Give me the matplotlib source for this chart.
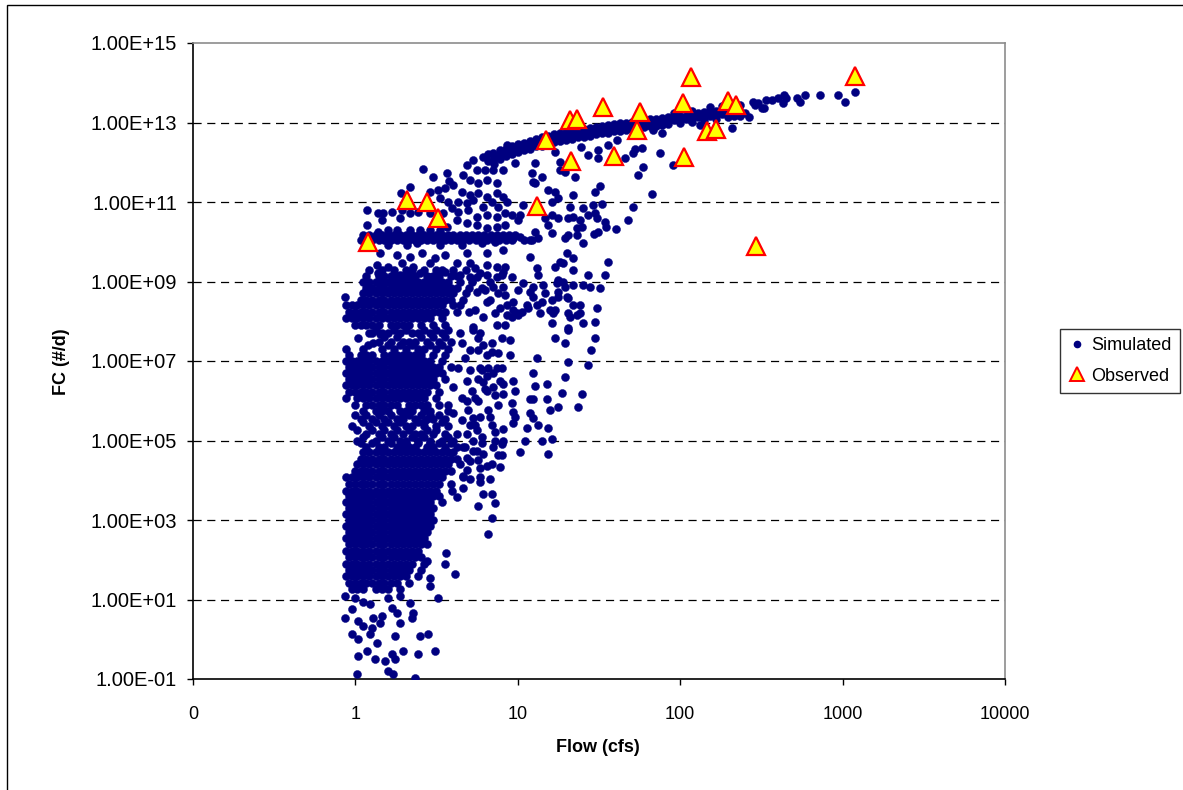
import matplotlib
matplotlib.use("Agg")
import matplotlib.pyplot as plt
from matplotlib.lines import Line2D
from matplotlib.patches import Rectangle
from matplotlib.ticker import NullLocator

plt.rcParams['font.family'] = ['Liberation Sans', 'DejaVu Sans']

# ---------------- data ----------------
obs_flow = [1.20, 2.08, 2.76, 3.23, 13.1, 14.9, 21.3, 20.9, 23.1, 33.5, 39.1,
            54.2, 56.5, 104, 105, 116, 146, 166, 197, 221, 293, 1190]
obs_fc = [1.0e10, 1.1e11, 1.0e11, 3.9e10, 7.8e10, 3.6e12, 1.1e12, 1.15e13, 1.2e13,
          2.5e13, 1.4e12, 6.5e12, 1.8e13, 3.1e13, 1.35e12, 1.4e14, 6.0e12, 6.8e12,
          3.5e13, 2.7e13, 7.8e9, 1.5e14]

# simulated: upper envelope curve (flow, FC)
sim_curve = [
    (6.55, 1.1e12), (6.55, 1.6e12), (7.14, 1.3e12), (7.14, 9e11),
    (7.77, 1.6e12), (7.77, 1.2e12), (7.77, 2e12), (8.46, 1.8e12), (8.46, 1.4e12), (8.46, 2.2e12),
    (9.21, 2e12), (9.21, 1.6e12), (9.21, 2.6e12), (10, 2.2e12), (10, 1.8e12), (10, 2.8e12),
    (10.9, 2.5e12), (10.9, 2e12), (10.9, 3e12), (11.9, 2.8e12), (11.9, 2.2e12), (11.9, 3.5e12),
    (12.9, 3e12), (12.9, 2.5e12), (12.9, 3.8e12), (14.1, 3.3e12), (14.1, 2.6e12), (14.1, 4.2e12),
    (15.3, 3.6e12), (15.3, 2.8e12), (15.3, 4.5e12), (16.7, 4e12), (16.7, 3.2e12), (16.7, 5e12),
    (18.2, 4.3e12), (18.2, 3.4e12), (18.2, 5.4e12), (19.8, 4.6e12), (19.8, 3.6e12), (19.8, 5.8e12),
    (21.6, 5e12), (21.6, 3.9e12), (21.6, 6.2e12), (23.5, 5.3e12), (23.5, 4.2e12), (23.5, 6.6e12),
    (25.6, 5.6e12), (25.6, 4.4e12), (25.6, 7e12), (27.8, 6e12), (27.8, 4.7e12), (27.8, 7.4e12),
    (30.3, 6.4e12), (30.3, 5e12), (30.3, 7.8e12), (33.0, 6.8e12), (33.0, 5.3e12), (33.0, 8.2e12),
    (35.9, 7.2e12), (35.9, 5.6e12), (35.9, 8.6e12), (39.1, 7.5e12), (39.1, 6e12), (39.1, 9e12),
    (42.6, 7.8e12), (42.6, 6.2e12), (42.6, 9.5e12), (46.3, 8.2e12), (46.3, 6.5e12), (46.3, 1e13),
    (50.5, 8.6e12), (50.5, 7e12), (50.5, 1.05e13), (55.0, 9e12), (55.0, 7.3e12), (55.0, 1.1e13),
    (59.8, 9.4e12), (59.8, 7.6e12), (59.8, 1.15e13), (65.1, 9.8e12), (65.1, 8e12), (65.1, 1.2e13),
    (70.9, 1e13), (70.9, 8.3e12), (70.9, 1.25e13), (77.3, 1.05e13), (77.3, 8.6e12), (77.3, 1.3e13),
    (84.1, 1.1e13), (84.1, 9e12), (84.1, 1.35e13), (91.6, 1.15e13), (91.6, 1.4e13), (91.6, 1.7e13),
    (99.7, 1.2e13), (99.7, 1e13), (99.7, 1.45e13), (109, 1.25e13), (109, 1.5e13),
    (118, 1.3e13), (118, 1.05e13), (118, 1.6e13), (118, 1.9e13), (129, 1.35e13), (129, 1.7e13),
    (140, 1.4e13), (140, 1.15e13), (140, 1.8e13), (152, 1.5e13), (152, 1.9e13), (152, 2.4e13),
    (166, 1.55e13), (166, 1.25e13), (166, 2e13), (180, 1.6e13), (180, 2.1e13), (180, 2.6e13),
    (196, 1.7e13), (196, 2.2e13), (196, 1.4e13), (214, 1.8e13), (214, 1.5e13), (214, 2.5e13),
    (233, 1.5e13), (233, 2.8e13),
    (250, 1.7e13), (266, 1.4e13), (281, 3.2e13), (289, 2.7e13), (301, 3.1e13), (319, 2.3e13),
    (328, 2.3e13), (338, 3.6e13), (367, 3.6e13), (400, 4.1e13), (430, 3.1e13), (435, 4.9e13),
    (448, 4.1e13), (523, 4.1e13), (547, 3.2e13), (587, 4.9e13), (726, 4.9e13), (937, 4.9e13),
    (1035, 3.2e13), (1190, 5.9e13),
]

# simulated: scattered points (flow, FC)
sim_scatter = [
    (2.61, 6.8e11), (3.0, 4.2e11), (3.66, 5.3e11), (3.77, 3.3e11), (4.86, 8.5e11), (5.3, 1.13e12),
    (6.1, 1.34e12), (7.03, 1.7e12), (8.34, 1.8e12), (8.58, 2.7e12), (5.61, 6.3e11), (6.28, 6.3e11),
    (7.03, 6.3e11), (8.11, 6.3e11), (4.59, 4.7e11), (5.08, 3.5e11), (5.69, 3e11), (6.46, 3.5e11),
    (7.44, 3e11), (2.17, 2.36e11), (1.91, 1.67e11), (2.88, 1.77e11), (3.23, 2e11), (3.56, 2.2e11),
    (3.99, 2.65e11), (4.53, 1.77e11), (5.08, 1.48e11), (5.69, 1.67e11), (6.46, 1.32e11),
    (7.44, 1.67e11), (8.11, 1.32e11), (3.32, 1.25e11), (3.72, 1e11), (4.28, 1e11), (4.86, 9.3e10),
    (5.3, 1.11e11), (6.1, 7.4e10), (6.93, 1e11), (7.55, 7.4e10), (8.58, 1e11), (2.17, 5.2e10),
    (1.94, 6.2e10), (1.68, 5.5e10), (1.48, 5.2e10), (1.38, 5.2e10), (1.18, 6.2e10), (1.18, 2.6e10),
    (1.46, 3.5e10), (1.88, 3.9e10), (2.43, 5.5e10), (2.88, 5.2e10), (3.46, 5.2e10), (3.93, 7e10),
    (4.28, 5.5e10), (4.93, 6.2e10), (5.61, 4.1e10), (6.46, 4.7e10), (7.44, 4.1e10), (8.34, 5.2e10),
    (4.22, 3.5e10), (4.86, 2.9e10), (5.61, 2.6e10), (6.46, 2.2e10), (7.44, 2.3e10), (8.34, 2.6e10),
    (3.66, 2.3e10), (3.32, 1.95e10), (2.88, 1.95e10), (2.5, 1.95e10), (2.17, 1.95e10),
    (1.8, 1.95e10), (1.59, 1.95e10), (1.38, 1.74e10),
    (1.59, 8.2e9), (2.08, 8.2e9), (2.39, 9.2e9), (3.32, 8.2e9), (4.53, 8.2e9), (6.02, 9.2e9),
    (7.24, 9.7e9), (1.42, 5.1e9), (1.8, 4.6e9), (2.17, 4.1e9), (2.57, 5.1e9), (3.56, 4.6e9),
    (4.86, 5.1e9), (6.46, 5.1e9), (8.11, 6.1e9), (1.36, 2.56e9), (1.59, 2.3e9), (1.94, 2.9e9),
    (2.26, 2.3e9), (2.88, 2.9e9), (3.09, 3.8e9), (4.22, 2.9e9), (5.08, 2.9e9), (5.45, 2.15e9),
    (6.46, 2.56e9), (7.44, 2.3e9), (8.34, 2.3e9), (1.38, 1.6e9), (1.88, 1.43e9), (2.5, 1.6e9),
    (2.88, 1.27e9), (3.56, 1.7e9), (4.41, 1.43e9), (5.61, 1.27e9), (8.0, 1.43e9),
    (90.5, 8.5e11), (75, 1.7e12), (59, 7.5e11), (55, 4.7e11), (67, 1.57e11), (51, 7.4e10),
    (48, 3.5e10), (40, 2.1e10), (36, 3.05e9), (32, 2.5e11), (30, 1.77e11), (33, 8.8e10),
    (30, 5.2e10), (35, 2.3e10), (29.5, 1.6e10), (27, 4.6e10), (27, 1.43e9), (32, 6.7e8), (20, 4e8),
    (209, 7.2e12), (132, 8.6e12), (77, 5.4e12), (68, 6.4e12), (58, 2.3e12), (51, 1.7e12),
    (46, 1.27e12), (41, 3.6e12), (36, 2.7e12), (31, 2e12), (31, 1.27e12), (27, 1.5e12),
    (24.5, 2.4e12), (22.5, 4.2e11), (19.6, 5.6e11), (18.3, 1e12), (17, 1.8e12), (14, 4.2e11),
    (12.3, 5.3e11), (12.8, 3e11), (52.7, 2.2e12),
    (30.7, 3.9e10), (24.9, 2.3e10), (24.2, 3.5e10), (21.9, 4.1e10), (23.2, 2.2e10), (20.4, 3.9e10),
    (17.7, 3.9e10), (16.2, 4.7e10), (14.7, 3.9e10), (15.3, 2.6e10), (16.2, 1.62e10), (20.4, 1.46e10),
    (19.5, 1.22e10), (23.2, 1.46e10), (31.2, 1.74e10), (25.2, 9.2e9), (21.9, 3.8e9), (18.2, 3.05e9),
    (16.9, 2.3e9), (13.1, 2.15e9), (13.3, 1.43e9), (11.9, 4.1e9), (12.2, 1.09e10), (12.8, 1.74e10),
    (13.3, 1.22e10), (10.3, 1.3e10), (9.34, 1.22e10), (10, 3.5e10), (10.3, 4.7e10), (9.21, 4.7e10),
    (10.8, 8.3e10), (9.61, 9.5e11), (12.8, 9.5e11), (8.96, 1.7e12), (12.4, 3.15e11), (15.3, 2e11),
    (16.9, 1.77e11), (18.2, 6.3e11), (21.9, 1.48e11), (17.7, 1.25e11), (16.2, 1e11), (25.2, 7e10),
    (21, 7.4e10), (29, 8.3e10), (34.4, 3.1e10), (20.1, 5.1e9), (21.9, 1.9e9), (19, 2.9e9),
    (25.2, 8e8), (27.8, 7.3e8), (34.4, 1.43e9), (30.7, 2.2e8), (24.2, 1.58e8), (20.4, 3.8e8),
    (21.9, 2.5e8), (17.7, 5.3e8), (16.2, 3.4e8), (14.7, 5e8), (14.1, 3e8), (12.4, 7.1e8),
    (10.8, 9e8), (12.4, 4e8), (11.4, 2.5e8), (10, 6e8), (9.21, 1.27e9), (9.88, 1.58e8),
    (10.6, 1.7e8), (13.7, 1.58e8), (16.5, 1.58e8), (19.5, 7.1e8), (17.7, 1.07e9),
    (8.11, 1.7e9), (7.44, 1.27e9), (6.46, 1.43e9), (8.11, 7.1e8), (7.03, 7.1e8), (6.28, 6e8),
    (6.74, 3.4e8), (7.55, 5e8), (8.34, 4.5e8), (8.58, 2.5e8), (7.77, 2.2e8), (9.34, 3e8),
    (8.58, 1.4e8), (7.24, 1.58e8),
    (11.9, 5.3e8), (14.3, 8e8), (17.4, 9e8), (19.0, 9.5e8), (21.9, 8e8), (17.7, 4e8), (15.8, 1.9e8),
    (20.4, 1.6e8), (25.2, 8.8e7), (29.9, 9.4e7), (24.2, 2.5e8), (20.4, 6.6e7), (28.4, 1.85e7),
    (29.9, 3.9e7), (13.1, 1.17e7), (20.4, 9.2e6), (27, 7.8e6), (24.9, 1.5e6), (11.9, 1.1e6),
    (16.2, 8.8e7), (16.9, 3.9e7), (19.5, 2.8e7), (20.4, 5.9e7), (21, 1.25e8), (23.2, 1.4e8),
    (12.4, 4.9e6), (12.8, 2.4e6), (15.1, 2.7e6), (18.7, 1.6e6), (19.5, 3.9e6), (23.5, 6.8e5),
    (17.7, 6.8e5), (15.8, 5.7e5), (15.1, 1.1e6), (12.4, 1.1e6), (11.9, 4.8e5), (12.4, 3.6e5),
    (13.3, 2.4e5), (11.4, 2.1e5), (15.3, 2.1e5), (16.2, 1.12e5), (14.1, 1e5), (11.1, 1e5),
    (15.3, 4.7e4), (9.34, 3.2e6), (9.61, 1.8e6), (9.21, 8.6e5), (9.34, 5.1e5), (9.61, 3.8e5),
    (9.34, 2.7e5), (8.11, 2e5), (8.11, 1e5), (7.24, 1e5), (8.0, 4.2e4), (7.03, 6.7e4),
    (6.93, 2.4e5), (7.24, 1.6e5), (6.74, 3.8e5), (6.55, 5.7e5), (7.55, 7.6e5), (7.24, 1.36e6),
    (8.11, 1.5e6), (7.03, 2.2e6), (8.11, 2.7e6), (7.77, 3.2e6), (6.28, 2e6), (6.1, 2.9e6),
    (6.46, 4.3e6), (7.03, 4.9e6), (8.0, 6.5e6), (7.44, 6.7e6), (6.55, 6.7e6), (5.85, 6.7e6),
    (8.96, 1.38e7), (7.55, 1.55e7), (6.93, 1.65e7), (6.46, 1.38e7), (6.93, 2.8e7), (6.1, 2.5e7),
    (5.69, 3.9e7), (5.3, 5.9e7), (8.0, 3.9e7), (8.96, 3.4e7), (7.44, 7.9e7), (8.34, 7.9e7),
    (9.21, 1.25e8), (10, 1.4e8), (9.34, 1.9e8), (11.6, 2.2e8), (13.1, 2.5e8), (16.9, 1.9e8),
    (5.69, 3.6e6), (5.45, 1.2e6), (4.86, 1e6), (5.69, 1e6), (4.93, 5.7e5), (5.3, 3.6e5),
    (5.08, 2.4e5), (5.61, 1.8e5), (4.86, 1.5e5), (6.02, 1.2e5), (5.3, 1e5), (4.73, 6.7e4),
    (5.61, 5.6e4), (6.1, 4.7e4), (4.86, 3.7e4), (5.69, 3.2e4), (6.46, 2.3e4), (6.93, 2.5e4),
    (7.77, 2.1e4), (4.86, 1.76e4), (5.08, 1.1e4), (5.85, 1.2e4), (6.74, 1.1e4), (4.59, 1.2e4),
    (10.3, 5e4),
    (5.69, 2.3e3), (6.55, 4.5e2), (6.93, 1.1e3), (7.24, 2.7e3), (6.93, 4.6e3), (6.1, 4.6e3),
    (5.85, 8.8e3), (5.85, 2e4),
    (3.99, 2.2e6), (3.72, 7.6e5), (3.99, 4.8e5), (4.28, 6.5e6), (4.53, 2.9e7), (4.53, 1.15e6),
    (4.53, 3.2e5), (4.73, 1.2e7), (5.08, 1.85e7), (5.69, 1.85e7), (5.3, 7e7), (5.85, 5e7),
    (5.45, 1.9e8), (6.1, 1.25e8), (6.46, 3e8), (5.61, 5.5e8), (6.74, 9.5e8), (5.85, 1.6e9),
    (5.08, 1.27e9), (4.86, 3.2e6), (5.08, 5.8e6), (6.02, 5.8e6), (5.22, 1.8e6), (6.46, 1.8e6),
    (5.85, 3.8e5), (5.45, 2.4e5),
    (4.59, 6.5e3), (4.59, 1.3e4), (4.22, 3.7e3), (3.93, 5.5e3), (5.08, 3.1e4), (5.3, 5.6e4),
    (6.02, 8.9e4), (8.0, 8.3e4), (7.55, 4.2e4),
    (0.86, 4e8), (1.04, 3.7e7), (1.27, 5.2e7), (1.42, 4.9e7), (1.28, 2.9e7), (1.2, 2.5e7),
    (0.863, 12.5), (1.0, 11), (1.11, 8.7), (1.23, 7.8), (1.59, 11), (1.68, 6.2), (1.8, 4.6),
    (1.88, 12.5), (2.17, 8.4), (2.26, 4.6), (2.23, 3.5), (1.46, 3.9), (1.28, 3.5), (1.42, 2.5),
    (1.04, 2.9), (0.863, 3.5), (0.953, 5.7), (1.88, 2.5), (2.5, 1.22), (2.8, 1.38), (1.75, 1.22),
    (1.11, 2.2), (1.27, 1.95), (0.953, 1.38), (1.04, 1.0), (1.23, 1.38), (1.36, 0.82),
    (1.18, 0.51), (1.04, 0.38), (1.32, 0.32), (1.52, 0.29), (1.68, 0.42), (1.75, 0.32),
    (1.96, 0.51), (2.43, 0.42), (3.09, 0.51), (1.59, 0.16), (1.7, 0.13), (1.02, 0.13),
    (2.33, 0.107), (3.61, 150), (3.56, 80), (4.11, 45), (3.23, 11), (2.88, 35), (2.88, 22),
    (2.76, 95),
]

# simulated: dense horizontal band near 1e10 (FC, flows)
sim_band_rows = [
    (1.5e10, [1.12, 1.22, 1.33, 1.45, 1.58, 1.72, 1.87, 2.04, 2.22, 2.42, 2.63, 2.87, 3.12, 3.4,
              3.7, 4.0, 4.4, 4.8, 5.2, 5.7, 6.2, 6.8, 7.4, 8.1, 8.8, 9.6]),
    (1.1e10, [1.08, 1.17, 1.27, 1.39, 1.51, 1.65, 1.8, 1.96, 2.13, 2.32, 2.53, 2.75, 3.0, 3.26,
              3.55, 3.87, 4.2, 4.6, 5.0, 5.5, 6.0, 6.5, 7.1, 7.7, 8.4, 9.2, 10.9, 11.9]),
]

# simulated: dense cloud 1e5 .. 2e9 (FC, flows)
sim_mid_rows = [
    (2e9, [1.22, 1.45, 1.72, 2.04, 2.22, 2.63, 3.12, 3.4, 4.0, 4.8]),
    (1.4e9, [1.17, 1.39, 1.51, 1.65, 1.8, 1.96, 2.13, 2.32, 2.75, 3.0, 3.26, 3.87, 4.2]),
    (1e9, [1.12, 1.22, 1.33, 1.45, 1.58, 1.72, 1.87, 2.04, 2.22, 2.42, 2.63, 2.87, 3.12, 3.4, 3.7, 4.4, 5.2]),
    (7e8, [1.17, 1.27, 1.39, 1.51, 1.65, 1.8, 1.96, 2.13, 2.32, 2.53, 2.75, 3.0, 3.26, 3.55, 3.87, 4.2, 5.0, 6.0]),
    (5e8, [1.12, 1.22, 1.33, 1.45, 1.58, 1.72, 1.87, 2.04, 2.22, 2.42, 2.63, 2.87, 3.12, 3.4, 3.7, 4.0, 4.8]),
    (3.5e8, [1.08, 1.17, 1.27, 1.39, 1.51, 1.65, 1.8, 1.96, 2.13, 2.32, 2.53, 2.75, 3.0, 3.26, 3.55, 3.87, 4.6]),
    (2.5e8, [0.88, 0.95, 1.03, 1.12, 1.22, 1.33, 1.45, 1.58, 1.72, 1.87, 2.04, 2.22, 2.42, 2.63, 2.87, 3.12, 3.4, 4.0, 4.4]),
    (1.7e8, [0.91, 0.99, 1.08, 1.17, 1.27, 1.39, 1.51, 1.65, 1.8, 1.96, 2.13, 2.32, 2.53, 2.75, 3.0, 3.26, 3.55, 4.2, 5.0]),
    (1.2e8, [0.88, 0.95, 1.03, 1.12, 1.22, 1.33, 1.45, 1.58, 1.72, 1.87, 2.04, 2.22, 2.42, 2.63, 2.87, 3.4]),
    (8e7, [0.99, 1.08, 1.17, 1.27, 1.39, 1.65, 1.8, 1.96, 2.13, 2.53, 3.0, 3.55]),
    (6e7, [1.33, 1.72, 2.04, 2.63, 3.12, 3.7]),
    (5e7, [1.22, 1.45, 1.58, 1.87, 2.22, 2.42, 2.87, 3.4, 4.4]),
    (4e7, [1.51, 1.8, 2.53, 3.0, 3.55]),
    (3e7, [1.39, 1.65, 1.96, 2.13, 2.32, 2.75, 3.26, 3.87]),
    (2.5e7, [1.58, 1.87, 2.22, 2.87, 3.4]),
    (2e7, [0.88, 1.12, 1.45, 1.72, 2.04, 2.42, 2.63, 3.12, 3.7]),
    (1.4e7, [0.91, 1.08, 1.17, 1.27, 1.51, 1.65, 1.8, 1.96, 2.13, 2.32, 2.53, 3.0, 3.55]),
    (1e7, [0.88, 0.95, 1.03, 1.12, 1.22, 1.33, 1.45, 1.58, 1.72, 1.87, 2.04, 2.22, 2.42, 2.63, 2.87, 3.4]),
    (7e6, [0.91, 0.99, 1.08, 1.17, 1.27, 1.39, 1.51, 1.65, 1.8, 1.96, 2.13, 2.32, 2.53, 2.75, 3.0, 3.26, 3.87]),
    (5e6, [0.88, 0.95, 1.03, 1.12, 1.22, 1.33, 1.45, 1.58, 1.72, 1.87, 2.04, 2.22, 2.42, 2.63, 2.87, 3.12, 3.4]),
    (3.5e6, [0.91, 0.99, 1.08, 1.17, 1.27, 1.39, 1.51, 1.65, 1.8, 1.96, 2.13, 2.32, 2.53, 2.75, 3.0, 3.55]),
    (2.5e6, [0.88, 0.95, 1.03, 1.12, 1.22, 1.33, 1.45, 1.58, 1.72, 1.87, 2.04, 2.22, 2.42, 2.63, 2.87, 3.12]),
    (1.7e6, [0.91, 0.99, 1.08, 1.17, 1.27, 1.39, 1.51, 1.65, 1.8, 1.96, 2.13, 2.32, 2.53, 2.75, 3.26]),
    (1.2e6, [0.88, 1.03, 1.12, 1.22, 1.33, 1.45, 1.58, 1.72, 1.87, 2.04, 2.22, 2.42, 2.63, 3.12]),
    (8e5, [0.99, 1.17, 1.27, 1.39, 1.51, 1.65, 1.8, 2.13, 2.32, 2.53, 2.75, 3.26]),
    (5.5e5, [1.12, 1.33, 1.45, 1.58, 1.87, 2.04, 2.22, 2.63, 2.87, 3.7]),
    (4.3e5, [0.99, 1.17, 1.39, 1.65, 1.96, 2.13, 2.53, 2.87, 3.26]),
    (3.5e5, [1.08, 1.27, 1.51, 1.8, 1.96, 2.32, 2.75, 3.0, 3.55]),
    (2.9e5, [1.12, 1.33, 1.58, 1.87, 2.42, 2.63, 3.4]),
    (2.3e5, [0.95, 1.22, 1.45, 1.72, 2.04, 2.22, 2.63, 3.12, 3.7]),
    (1.8e5, [1.03, 1.27, 1.51, 1.8, 2.13, 2.75, 3.12]),
    (1.5e5, [1.17, 1.39, 1.65, 1.96, 2.32, 2.53, 3.0, 3.55, 4.2]),
    (1.2e5, [1.12, 1.45, 1.72, 2.22, 2.63, 3.7]),
    (1e5, [1.03, 1.33, 1.58, 1.87, 2.04, 2.42, 2.87, 3.4, 4.0]),
    (8.5e4, [1.08, 1.27, 1.65, 2.04, 2.42, 2.87, 3.26, 3.87]),
]

# simulated: dense cloud 18 .. 7e4 (FC, flows)
sim_low_rows = [
    (7e4, [1.17, 1.39, 1.51, 1.8, 1.96, 2.13, 2.32, 2.75, 3.0, 3.55, 4.2, 4.6]),
    (5e4, [1.12, 1.22, 1.33, 1.45, 1.58, 1.72, 1.87, 2.04, 2.22, 2.42, 2.63, 2.87, 3.12, 3.4, 3.7, 4.0]),
    (3.5e4, [1.08, 1.17, 1.27, 1.39, 1.51, 1.65, 1.8, 1.96, 2.13, 2.32, 2.53, 2.75, 3.0, 3.26, 3.55, 3.87, 4.2]),
    (2.5e4, [1.03, 1.12, 1.22, 1.33, 1.45, 1.58, 1.72, 1.87, 2.04, 2.22, 2.42, 2.63, 2.87, 3.12, 3.4, 3.7, 4.4]),
    (1.7e4, [0.99, 1.08, 1.17, 1.27, 1.39, 1.51, 1.65, 1.8, 1.96, 2.13, 2.32, 2.53, 2.75, 3.0, 3.26, 3.55, 3.87]),
    (1.2e4, [0.88, 0.95, 1.03, 1.12, 1.22, 1.33, 1.45, 1.58, 1.72, 1.87, 2.04, 2.22, 2.42, 2.63, 2.87, 3.12, 3.4]),
    (8e3, [0.91, 0.99, 1.08, 1.17, 1.27, 1.39, 1.51, 1.65, 1.8, 1.96, 2.13, 2.32, 2.53, 2.75, 3.0, 3.26, 3.87]),
    (5.5e3, [0.88, 0.95, 1.03, 1.12, 1.22, 1.33, 1.45, 1.58, 1.72, 1.87, 2.04, 2.22, 2.42, 2.63, 2.87, 3.12]),
    (4e3, [0.91, 0.99, 1.08, 1.17, 1.27, 1.39, 1.51, 1.65, 1.8, 1.96, 2.13, 2.32, 2.53, 2.75, 3.0, 3.26]),
    (2.8e3, [0.88, 0.95, 1.03, 1.12, 1.22, 1.33, 1.45, 1.58, 1.72, 1.87, 2.04, 2.22, 2.42, 2.63, 2.87, 3.4]),
    (2e3, [0.91, 0.99, 1.08, 1.17, 1.27, 1.39, 1.51, 1.65, 1.8, 1.96, 2.13, 2.32, 2.53, 2.75, 3.0]),
    (1.4e3, [0.88, 0.95, 1.03, 1.12, 1.22, 1.33, 1.45, 1.58, 1.72, 1.87, 2.04, 2.22, 2.42, 2.63, 2.87]),
    (1e3, [0.91, 0.99, 1.08, 1.17, 1.27, 1.39, 1.51, 1.65, 1.8, 1.96, 2.13, 2.32, 2.53, 2.75, 3.0]),
    (7e2, [0.88, 0.95, 1.03, 1.12, 1.22, 1.33, 1.45, 1.58, 1.72, 1.87, 2.04, 2.22, 2.42, 2.63, 2.87]),
    (5e2, [0.91, 0.99, 1.08, 1.17, 1.27, 1.39, 1.51, 1.65, 1.8, 1.96, 2.13, 2.32, 2.53, 2.75]),
    (3.5e2, [0.88, 0.95, 1.03, 1.12, 1.22, 1.33, 1.45, 1.58, 1.72, 1.87, 2.04, 2.22, 2.42, 2.63]),
    (2.5e2, [0.91, 0.99, 1.08, 1.17, 1.27, 1.39, 1.51, 1.65, 1.8, 1.96, 2.13, 2.32, 2.53, 2.75]),
    (1.7e2, [0.88, 0.95, 1.03, 1.12, 1.22, 1.33, 1.45, 1.58, 1.72, 1.87, 2.04, 2.22, 2.42]),
    (1.2e2, [0.91, 0.99, 1.08, 1.17, 1.27, 1.39, 1.51, 1.65, 1.8, 1.96, 2.13, 2.32, 2.53]),
    (80, [0.88, 0.95, 1.03, 1.12, 1.22, 1.33, 1.45, 1.58, 1.72, 1.87, 2.04, 2.22, 2.63]),
    (55, [0.91, 0.99, 1.08, 1.17, 1.27, 1.39, 1.51, 1.65, 1.8, 1.96, 2.13, 2.53]),
    (38, [0.88, 0.95, 1.03, 1.12, 1.22, 1.33, 1.45, 1.58, 1.72, 1.87, 2.04, 2.42]),
    (26, [0.91, 0.99, 1.08, 1.17, 1.27, 1.39, 1.51, 1.65, 1.8, 2.13]),
    (18, [0.95, 1.03, 1.12, 1.33, 1.45, 1.58, 1.87]),
]

x_ticks = [0.1, 1, 10, 100, 1000, 10000]
x_tick_labels = ['0', '1', '10', '100', '1000', '10000']
y_ticks = [1e-1, 1e1, 1e3, 1e5, 1e7, 1e9, 1e11, 1e13, 1e15]
y_tick_labels = ['1.00E-01', '1.00E+01', '1.00E+03', '1.00E+05', '1.00E+07',
                 '1.00E+09', '1.00E+11', '1.00E+13', '1.00E+15']
grid_levels = [1e1, 1e3, 1e5, 1e7, 1e9, 1e11, 1e13]

# ---------------- assemble simulated series ----------------
sim_flow = [p[0] for p in sim_curve + sim_scatter]
sim_fc = [p[1] for p in sim_curve + sim_scatter]
for fc, flows in sim_band_rows + sim_mid_rows + sim_low_rows:
    sim_flow.extend(flows)
    sim_fc.extend([fc] * len(flows))

# ---------------- figure ----------------
W, H = 1183, 790
fig = plt.figure(figsize=(W / 100, H / 100), dpi=100)
fig.patch.set_facecolor('white')
ax = fig.add_axes([193 / W, 1 - 679 / H, (1005 - 193) / W, (679 - 43) / H])

navy = '#000080'
ax.plot(sim_flow, sim_fc, linestyle='none', marker='o', markersize=5.8,
        markerfacecolor=navy, markeredgecolor=navy, markeredgewidth=0.3, zorder=3)
ax.plot(obs_flow, obs_fc, linestyle='none', marker='^', markersize=12.5,
        markerfacecolor='#FFFF00', markeredgecolor='#FF0000', markeredgewidth=1.6, zorder=4)

ax.set_xscale('log')
ax.set_yscale('log')
ax.set_xlim(0.1, 10000)
ax.set_ylim(0.1, 1e15)

for lv in grid_levels:
    ax.axhline(lv, color='black', linewidth=0.9, linestyle=(0, (6.5, 4.5)), zorder=1)

ax.set_xticks(x_ticks)
ax.set_xticklabels(x_tick_labels)
ax.set_yticks(y_ticks)
ax.set_yticklabels(y_tick_labels)
ax.xaxis.set_minor_locator(NullLocator())
ax.yaxis.set_minor_locator(NullLocator())
ax.tick_params(axis='both', which='major', direction='out', length=4.5, width=1,
               color='black', labelsize=13)
ax.tick_params(axis='x', pad=15)
ax.tick_params(axis='y', pad=7, labelsize=14.5)

for side in ('left', 'bottom'):
    ax.spines[side].set_color('black')
    ax.spines[side].set_linewidth(1.2)
for side in ('top', 'right'):
    ax.spines[side].set_color('#8c8c8c')
    ax.spines[side].set_linewidth(1.2)

fig.text(62 / W, 1 - 362 / H, 'FC (#/d)', rotation=90, ha='center', va='center',
         fontsize=13, fontweight='bold')
fig.text(598 / W, 1 - 747 / H, 'Flow (cfs)', ha='center', va='center',
         fontsize=13, fontweight='bold')

handles = [
    Line2D([], [], linestyle='none', marker='o', markersize=4.5, markerfacecolor=navy,
           markeredgecolor=navy),
    Line2D([], [], linestyle='none', marker='^', markersize=10, markerfacecolor='#FFFF00',
           markeredgecolor='#FF0000', markeredgewidth=1.4),
]
leg = fig.legend(handles, ['Simulated', 'Observed'], loc='center',
                 bbox_to_anchor=(1120 / W, 1 - 361 / H), frameon=True, fancybox=False,
                 edgecolor='black', fontsize=13, handlelength=0.9, handletextpad=0.35,
                 borderpad=0.45, labelspacing=0.75, borderaxespad=0)
leg.get_frame().set_linewidth(1.0)

fig.patches.append(Rectangle((7 / W, -0.05), 1.2, 1 - 5 / H + 0.05, transform=fig.transFigure,
                             fill=False, edgecolor='black', linewidth=1.0))

fig.savefig('out.png', dpi=100)
